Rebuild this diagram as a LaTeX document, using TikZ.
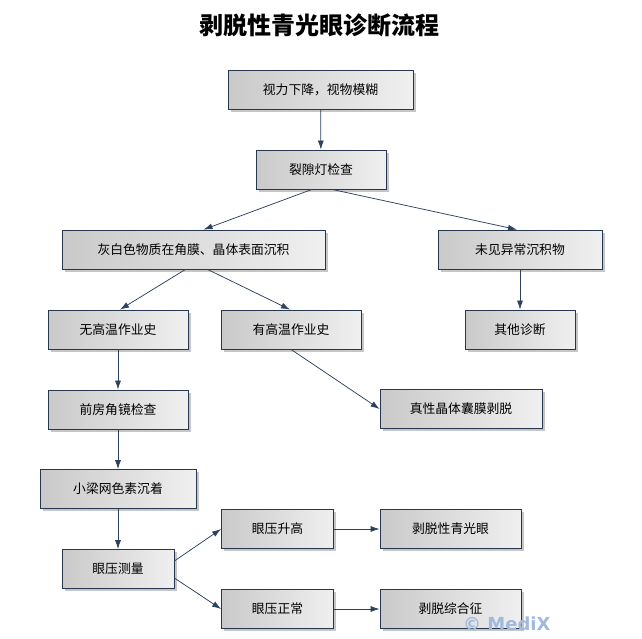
\documentclass[tikz,border=0pt]{standalone}
\usepackage{fontspec}
\setmainfont{Noto Sans CJK SC}
\newfontfamily\markfont{DejaVu Sans}
\usetikzlibrary{arrows.meta, shadows}
\definecolor{framecol}{RGB}{40,55,80}
\definecolor{flowcol}{RGB}{45,65,95}
\definecolor{markcol}{RGB}{160,185,220}
\tikzset{
    proc/.style={draw=framecol, line width=0.8pt, rectangle, minimum height=39pt, inner sep=0pt,
        left color=gray!42, right color=gray!12,
        drop shadow={shadow xshift=2.5pt, shadow yshift=-2.5pt, opacity=0.45},
        font=\fontsize{12.8}{15}\selectfont},
    flow/.style={-{Latex[length=9pt, width=6pt]}, draw=flowcol, line width=0.75pt},
    heading/.style={font=\fontsize{24}{28}\selectfont\bfseries} }

\begin{document}
\begin{tikzpicture}[x=1pt, y=-1pt]
	\useasboundingbox (0,0) rectangle (642,638);
	\node[heading] (head) at (319,25) {剥脱性青光眼诊断流程};
	% ---- boxes
	\node[proc, minimum width=185pt] (vision) at (320.5,90) {视力下降，视物模糊};
	\node[proc, minimum width=130pt] (slit) at (321,169.5) {裂隙灯检查};
	\node[proc, minimum width=263pt] (deposit) at (193.5,249.5) {灰白色物质在角膜、晶体表面沉积};
	\node[proc, minimum width=164pt] (nodep) at (520,249.5) {未见异常沉积物};
	\node[proc, minimum width=140pt] (nohot) at (118,329.5) {无高温作业史};
	\node[proc, minimum width=140pt] (hot) at (291,329.5) {有高温作业史};
	\node[proc, minimum width=110pt] (other) at (520,329.5) {其他诊断};
	\node[proc, minimum width=140pt] (gonio) at (118,409.5) {前房角镜检查};
	\node[proc, minimum width=162pt] (capsule) at (461,409) {真性晶体囊膜剥脱};
	\node[proc, minimum width=156pt] (pigment) at (118,489) {小梁网色素沉着};
	\node[proc, minimum width=112pt] (iop) at (118,569) {眼压测量};
	\node[proc, minimum width=112pt] (iophigh) at (277.5,529) {眼压升高};
	\node[proc, minimum width=141pt] (xfg) at (450.5,529) {剥脱性青光眼};
	\node[proc, minimum width=112pt] (iopnorm) at (277.5,609) {眼压正常};
	\node[proc, minimum width=141pt] (xfs) at (450.5,609) {剥脱综合征};
	% ---- arrows
	\draw[flow] (vision) -- (slit);
	\draw[flow] ([xshift=-9pt]slit.south) -- ([xshift=10pt]deposit.north);
	\draw[flow] ([xshift=11pt]slit.south) -- ([xshift=-3pt]nodep.north);
	\draw[flow] ([xshift=-8pt]deposit.south) -- ([xshift=2pt]nohot.north);
	\draw[flow] ([xshift=14pt]deposit.south) -- ([xshift=-1pt]hot.north);
	\draw[flow] (nodep) -- (other);
	\draw[flow] (nohot) -- (gonio);
	\draw[flow] (hot.south) -- (capsule.west);
	\draw[flow] (gonio) -- (pigment);
	\draw[flow] (pigment) -- (iop);
	\draw[flow] ([yshift=8pt]iop.east) -- (iophigh.west);
	\draw[flow] ([yshift=-9pt]iop.east) -- (iopnorm.west);
	\draw[flow] (iophigh) -- (xfg);
	\draw[flow] (iopnorm) -- (xfs);
	% ---- watermark
	\node[font=\markfont\bfseries\fontsize{18}{18}\selectfont, text=markcol, anchor=west, inner sep=0pt] (mark) at (463,624) {© MediX};
\end{tikzpicture}
\end{document}
